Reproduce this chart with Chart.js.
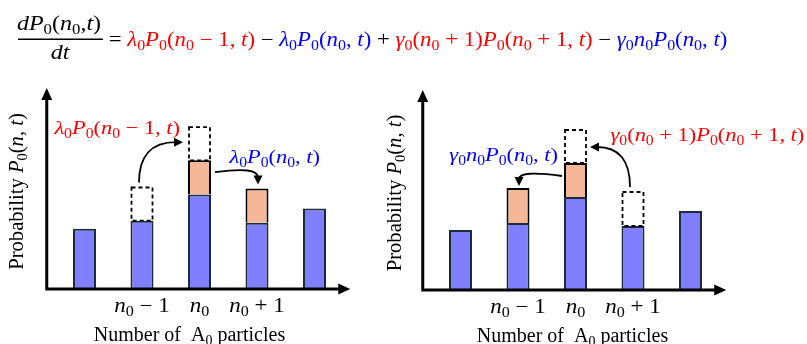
<!DOCTYPE html>
<html>
<head>
<meta charset="utf-8">
<script src="https://cdn.jsdelivr.net/npm/chart.js@4.4.1/dist/chart.umd.min.js"></script>
<style>
  html, body { margin: 0; padding: 0; background: #fff; }
  body { width: 807px; height: 344px; position: relative; overflow: hidden; }
  canvas { position: absolute; }
  #eq { left: 0; top: 0; }
  #gain { left: 0; top: 70px; }
  #loss { left: 370px; top: 70px; }
</style>
</head>
<body>
<canvas id="eq" width="807" height="70"></canvas>
<canvas id="gain" width="370" height="274"></canvas>
<canvas id="loss" width="437" height="274"></canvas>
<script>
// tick labels ($...$ = math italics, _x = subscript)
const tickLabels = ['', '$n_0$ − 1', '$n_0$', '$n_0$ + 1', ''];

// birth process panel
const leftBlue   = [0.30, 0.34, 0.47, 0.33, 0.40];
const leftOrange = [null, null, 0.17, 0.17, null];
const leftDashed = [null, 0.17, 0.17, null, null];

// death process panel
const rightBlue   = [0.30, 0.335, 0.465, 0.32, 0.395];
const rightOrange = [null, 0.175, 0.17, null, null];
const rightDashed = [null, null, 0.17, 0.175, null];

const RED = '#ff0000', BLUE = '#0000ff';
const FAMILY = '"Liberation Serif", "Times New Roman", serif';
const MATH_STRETCH = 1.15;

// split a string into styled runs
function tokens(s) {
  const out = [];
  let math = false;
  for (let i = 0; i < s.length; i++) {
    const c = s[i];
    if (c === '$') { math = !math; continue; }
    let t;
    if (c === '_') t = { t: s[++i], it: false, sub: true };
    else t = { t: c, it: math && /[A-Za-zλγ]/.test(c), sub: false };
    const last = out[out.length - 1];
    if (last && last.it === t.it && last.sub === t.sub) last.t += t.t;
    else out.push(t);
  }
  return out;
}

function fontFor(t, size) {
  return (t.it ? 'italic ' : '') + (t.sub ? size * 0.7 : size) + 'px ' + FAMILY;
}

// draws a run of styled text, sx widens the glyphs horizontally
function drawRich(ctx, s, x, y, size, color, align, sx = 1) {
  const toks = tokens(s);
  let w = 0;
  toks.forEach(t => { ctx.font = fontFor(t, size); t.w = ctx.measureText(t.t).width; w += t.w; });
  const W = w * sx;
  const x0 = align === 'center' ? x - W / 2 : align === 'right' ? x - W : x;
  ctx.save();
  ctx.translate(x0, y);
  ctx.scale(sx, 1);
  ctx.fillStyle = color;
  ctx.textAlign = 'left';
  ctx.textBaseline = 'alphabetic';
  let cx = 0;
  toks.forEach(t => {
    ctx.font = fontFor(t, size);
    ctx.fillText(t.t, cx, t.sub ? size * 0.22 : 0);
    cx += t.w;
  });
  ctx.restore();
  return W;
}

function arrow(ctx, s, e, mode) {
  const c = mode === 'vh' ? { x: s.x, y: e.y } : { x: e.x, y: s.y - 6 };
  ctx.save();
  ctx.strokeStyle = '#000';
  ctx.fillStyle = '#000';
  ctx.lineWidth = 1.8;
  const ang = Math.atan2(e.y - c.y, e.x - c.x);
  const bx = e.x - 7 * Math.cos(ang), by = e.y - 7 * Math.sin(ang);
  ctx.beginPath();
  ctx.moveTo(s.x, s.y);
  ctx.quadraticCurveTo(c.x, c.y, bx, by);
  ctx.stroke();
  ctx.beginPath();
  ctx.moveTo(e.x, e.y);
  ctx.lineTo(e.x - 9 * Math.cos(ang) + 4.5 * Math.sin(ang), e.y - 9 * Math.sin(ang) - 4.5 * Math.cos(ang));
  ctx.lineTo(e.x - 9 * Math.cos(ang) - 4.5 * Math.sin(ang), e.y - 9 * Math.sin(ang) + 4.5 * Math.cos(ang));
  ctx.closePath();
  ctx.fill();
  ctx.restore();
}

// geometry of the stacked bar at index i
function barAt(chart, i) {
  const ds = chart.data.datasets;
  let top = Infinity, el0 = null;
  ds.forEach((d, k) => {
    if (d.data[i] == null) return;
    const el = chart.getDatasetMeta(k).data[i];
    el0 = el0 || el;
    top = Math.min(top, el.y);
  });
  return { cx: el0.x, l: el0.x - el0.width / 2, r: el0.x + el0.width / 2, top };
}

const diagram = {
  id: 'diagram',
  afterDatasetsDraw(chart, args, opts) {
    const ctx = chart.ctx, ca = chart.chartArea, xs = chart.scales.x;

    // dashed outlines for the probability that flows in
    const meta = chart.getDatasetMeta(2);
    ctx.save();
    ctx.setLineDash([4, 3]);
    ctx.lineWidth = 1.8;
    ctx.strokeStyle = '#000';
    meta.data.forEach((el, i) => {
      if (chart.data.datasets[2].data[i] == null) return;
      ctx.strokeRect(el.x - el.width / 2 + 1, el.y + 1, el.width - 2, el.base - el.y - 1);
    });
    ctx.restore();

    // axes with arrow heads
    const ax = ca.left - 9, tipX = ca.right + 7;
    ctx.save();
    ctx.strokeStyle = '#000';
    ctx.fillStyle = '#000';
    ctx.lineWidth = 3;
    ctx.beginPath();
    ctx.moveTo(ax, ca.bottom + 1.5);
    ctx.lineTo(ax, ca.top + 10);
    ctx.moveTo(ax - 1.5, ca.bottom);
    ctx.lineTo(tipX - 10, ca.bottom);
    ctx.stroke();
    ctx.beginPath();
    ctx.moveTo(ax, ca.top);
    ctx.lineTo(ax - 5.5, ca.top + 12);
    ctx.lineTo(ax + 5.5, ca.top + 12);
    ctx.closePath();
    ctx.moveTo(tipX, ca.bottom);
    ctx.lineTo(tipX - 12, ca.bottom - 5.5);
    ctx.lineTo(tipX - 12, ca.bottom + 5.5);
    ctx.closePath();
    ctx.fill();
    ctx.restore();

    // tick labels
    chart.data.labels.forEach((lab, i) => {
      if (lab) drawRich(ctx, lab, xs.getPixelForValue(i), ca.bottom + 23, 20, '#000', 'center', MATH_STRETCH);
    });

    // axis titles
    drawRich(ctx, 'Number of  A_0 particles', (ca.left + ca.right) / 2 + opts.xTitleDx, ca.bottom + 52, 20, '#000', 'center');
    ctx.save();
    ctx.translate(opts.yTitleX, (ca.top + ca.bottom) / 2 + 3);
    ctx.rotate(-Math.PI / 2);
    drawRich(ctx, 'Probability $P_0(n, t)$', 0, 6, 20, '#000', 'center', 1.03);
    ctx.restore();

    // rate labels and arrows
    const b = i => barAt(chart, i);
    opts.notes(b).forEach(n => {
      if (n.text) drawRich(ctx, n.text, n.x, n.y + 5, 19.5, n.color, n.align, MATH_STRETCH);
      else arrow(ctx, n.from, n.to, n.mode);
    });
  }
};

function panel(id, blue, orange, dashed, opts) {
  return new Chart(document.getElementById(id), {
    type: 'bar',
    plugins: [diagram],
    data: {
      labels: tickLabels,
      datasets: [
        { data: blue, backgroundColor: '#7f7fff', borderColor: '#1c2b3a', borderWidth: 2 },
        { data: orange, backgroundColor: '#f4b898', borderColor: '#000', borderWidth: 2 },
        { data: dashed, backgroundColor: 'rgba(0,0,0,0)', borderWidth: 0 }
      ]
    },
    options: {
      responsive: false,
      animation: false,
      devicePixelRatio: 1,
      layout: { padding: opts.padding },
      datasets: { bar: { barPercentage: 0.4, categoryPercentage: 1 } },
      scales: {
        x: { stacked: true, display: false },
        y: { stacked: true, display: false, min: 0, max: 1 }
      },
      plugins: {
        legend: { display: false },
        tooltip: { enabled: false },
        diagram: opts
      }
    }
  });
}

panel('gain', leftBlue, leftOrange, leftDashed, {
  padding: { left: 55.75, right: 26.75, top: 18, bottom: 55 },
  xTitleDx: -10,
  yTitleX: 17,
  notes: b => [
    { text: '$λ_0P_0(n_0$ − 1, $t)$', color: RED, align: 'right', x: b(2).l - 8, y: b(2).top + 3 },
    { text: '$λ_0P_0(n_0$, $t)$', color: BLUE, align: 'left', x: b(3).l - 16, y: b(3).top - 31 },
    { from: { x: b(1).cx - 3, y: b(1).top - 4 }, to: { x: b(2).l - 5, y: b(2).top + 16 }, mode: 'vh' },
    { from: { x: b(2).r + 4, y: b(2).top + 46 }, to: { x: b(3).cx + 1, y: b(3).top - 4 }, mode: 'hv' }
  ]
});

panel('loss', rightBlue, rightOrange, rightDashed, {
  padding: { left: 61.75, right: 87.75, top: 20, bottom: 54 },
  xTitleDx: -3,
  yTitleX: 25,
  notes: b => [
    { text: '$γ_0n_0P_0(n_0$, $t)$', color: BLUE, align: 'right', x: b(2).l - 6, y: b(2).top + 27 },
    { text: '$γ_0(n_0$ + 1$)P_0(n_0$ + 1, $t)$', color: RED, align: 'left', x: b(3).l - 11, y: b(2).top + 7 },
    { from: { x: b(3).cx - 3, y: b(3).top - 4 }, to: { x: b(2).r + 3, y: b(2).top + 18 }, mode: 'vh' },
    { from: { x: b(2).l - 2, y: b(2).top + 47 }, to: { x: b(1).cx + 1, y: b(1).top - 2 }, mode: 'hv' }
  ]
});

// master equation header
(function () {
  const ctx = document.getElementById('eq').getContext('2d');
  const size = 20;
  drawRich(ctx, '$dP_0(n_0$,$t)$', 59, 30, size, '#000', 'center', 1.2);
  ctx.fillStyle = '#000';
  ctx.fillRect(18, 38.5, 85, 1.5);
  drawRich(ctx, '$dt$', 60, 59, size, '#000', 'center', 1.2);
  const parts = [
    [' = ', '#000'],
    ['$λ_0P_0(n_0$ − 1, $t)$', RED], [' − ', '#000'],
    ['$λ_0P_0(n_0$, $t)$', BLUE], [' + ', '#000'],
    ['$γ_0(n_0$ + 1$)P_0(n_0$ + 1, $t)$', RED], [' − ', '#000'],
    ['$γ_0n_0P_0(n_0$, $t)$', BLUE]
  ];
  let x = 103;
  parts.forEach(([s, col]) => { x += drawRich(ctx, s, x, 46, size, col, 'left', 1.14); });
})();
</script>
</body>
</html>
